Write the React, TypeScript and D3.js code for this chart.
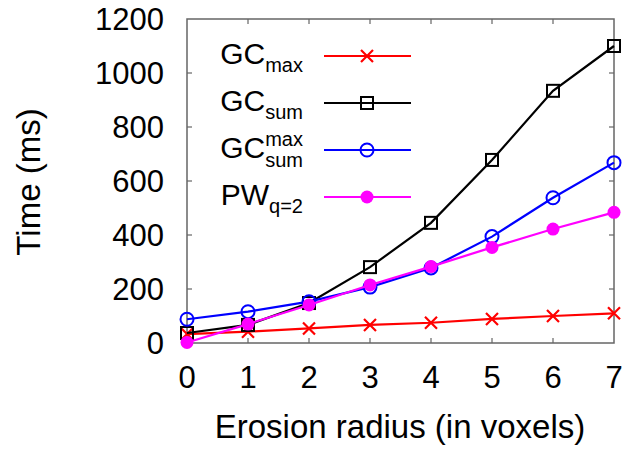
import React, {useEffect, useRef} from 'react';
import * as d3 from 'd3';

const radius = [0, 1, 2, 3, 4, 5, 6, 7];
const gcMax = [33, 42, 54, 67, 75, 89, 100, 110];
const gcSum = [37, 67, 148, 281, 445, 678, 934, 1100];
const gcSumMax = [88, 116, 153, 207, 278, 394, 538, 668];
const pwQ2 = [2, 70, 141, 215, 283, 354, 422, 484];
const yTicks = [0, 200, 400, 600, 800, 1000, 1200];

const FONT = "'Liberation Sans', Arial, sans-serif";

const series = [
  {name: 'gcMax', values: gcMax, color: '#ff0000', marker: 'cross'},
  {name: 'gcSum', values: gcSum, color: '#000000', marker: 'square'},
  {name: 'gcSumMax', values: gcSumMax, color: '#0000ff', marker: 'circle'},
  {name: 'pw', values: pwQ2, color: '#ff00ff', marker: 'dot'},
];

function drawMarker(g: any, kind: string, x: number, y: number, color: string) {
  if (kind === 'cross') {
    const s = 6;
    g.append('path')
      .attr('d', `M${x - s},${y - s}L${x + s},${y + s}M${x - s},${y + s}L${x + s},${y - s}`)
      .attr('stroke', color).attr('stroke-width', 2.2).attr('fill', 'none');
  } else if (kind === 'square') {
    g.append('rect')
      .attr('x', x - 6).attr('y', y - 6).attr('width', 12).attr('height', 12)
      .attr('stroke', color).attr('stroke-width', 2).attr('fill', 'none');
  } else if (kind === 'circle') {
    g.append('circle').attr('cx', x).attr('cy', y).attr('r', 6.5)
      .attr('stroke', color).attr('stroke-width', 2).attr('fill', 'none');
  } else {
    g.append('circle').attr('cx', x).attr('cy', y).attr('r', 6.5)
      .attr('fill', color);
  }
}

export default function App() {
  const ref = useRef<SVGSVGElement>(null);

  useEffect(() => {
    const svg = d3.select(ref.current);
    svg.selectAll('*').remove();

    const left = 187, right = 614, top = 19, bottom = 343;
    const x = d3.scaleLinear().domain([0, 7]).range([left, right]);
    const y = d3.scaleLinear().domain([0, 1200]).range([bottom, top]);
    const frame = '#666666';

    // frame and inward ticks
    svg.append('rect')
      .attr('x', left).attr('y', top).attr('width', right - left).attr('height', bottom - top)
      .attr('fill', 'none').attr('stroke', frame).attr('stroke-width', 1.5);

    const ticks = svg.append('g').attr('stroke', frame).attr('stroke-width', 1.2);
    radius.slice(1, -1).forEach((r) => {
      ticks.append('line').attr('x1', x(r)).attr('x2', x(r)).attr('y1', bottom).attr('y2', bottom - 5);
      ticks.append('line').attr('x1', x(r)).attr('x2', x(r)).attr('y1', top).attr('y2', top + 5);
    });
    yTicks.slice(1, -1).forEach((t) => {
      ticks.append('line').attr('x1', left).attr('x2', left + 5).attr('y1', y(t)).attr('y2', y(t));
      ticks.append('line').attr('x1', right).attr('x2', right - 5).attr('y1', y(t)).attr('y2', y(t));
    });

    // tick labels
    svg.append('g').selectAll('text').data(radius).enter().append('text')
      .attr('x', (d) => x(d)).attr('y', 388)
      .attr('text-anchor', 'middle')
      .attr('font-family', FONT).attr('font-size', 31)
      .text((d) => d);

    svg.append('g').selectAll('text').data(yTicks).enter().append('text')
      .attr('x', 164).attr('y', (d) => y(d) + 11)
      .attr('text-anchor', 'end')
      .attr('font-family', FONT).attr('font-size', 31)
      .text((d) => d);

    // axis titles
    svg.append('text')
      .attr('x', 400).attr('y', 438)
      .attr('text-anchor', 'middle')
      .attr('font-family', FONT).attr('font-size', 33)
      .text('Erosion radius (in voxels)');

    svg.append('text')
      .attr('transform', 'translate(39.5,182) rotate(-90)')
      .attr('text-anchor', 'middle')
      .attr('font-family', FONT).attr('font-size', 33)
      .text('Time (ms)');

    // legend
    const legY = [56, 103, 150, 197];
    const leg = svg.append('g').attr('font-family', FONT);
    const labelEnd = 303;

    const t0 = leg.append('text').attr('x', labelEnd).attr('y', legY[0] + 7.5)
      .attr('text-anchor', 'end').attr('font-size', 30);
    t0.append('tspan').text('GC');
    t0.append('tspan').attr('dy', 8.5).attr('font-size', 20).text('max');

    const t1 = leg.append('text').attr('x', labelEnd).attr('y', legY[1] + 7.5)
      .attr('text-anchor', 'end').attr('font-size', 30);
    t1.append('tspan').text('GC');
    t1.append('tspan').attr('dy', 8.5).attr('font-size', 20).text('sum');

    const t2 = leg.append('text').attr('x', labelEnd).attr('y', legY[2] + 7.5)
      .attr('text-anchor', 'end').attr('font-size', 30);
    t2.append('tspan').text('GC');
    t2.append('tspan').attr('dy', -12).attr('font-size', 20).text('max');
    t2.append('tspan').attr('dx', -37.8).attr('dy', 21.5).attr('font-size', 20).text('sum');

    const t3 = leg.append('text').attr('x', labelEnd).attr('y', legY[3] + 7.5)
      .attr('text-anchor', 'end').attr('font-size', 30);
    t3.append('tspan').text('PW');
    t3.append('tspan').attr('dy', 8.5).attr('font-size', 20).text('q=2');

    series.forEach((s, i) => {
      leg.append('line')
        .attr('x1', 324).attr('x2', 411).attr('y1', legY[i]).attr('y2', legY[i])
        .attr('stroke', s.color).attr('stroke-width', 2.2);
      drawMarker(leg, s.marker, 367, legY[i], s.color);
    });

    // data lines
    const line = d3.line<number>()
      .x((d, i) => x(radius[i]))
      .y((d) => y(d));

    series.forEach((s) => {
      const g = svg.append('g');
      g.append('path')
        .attr('d', line(s.values))
        .attr('fill', 'none')
        .attr('stroke', s.color)
        .attr('stroke-width', 2.2);
      s.values.forEach((v, i) => drawMarker(g, s.marker, x(radius[i]), y(v), s.color));
    });
  }, []);

  return (
    <svg ref={ref} width="642" height="450"
         style={{position: 'absolute', left: 0, top: 0, background: '#fff'}}/>
  );
}
